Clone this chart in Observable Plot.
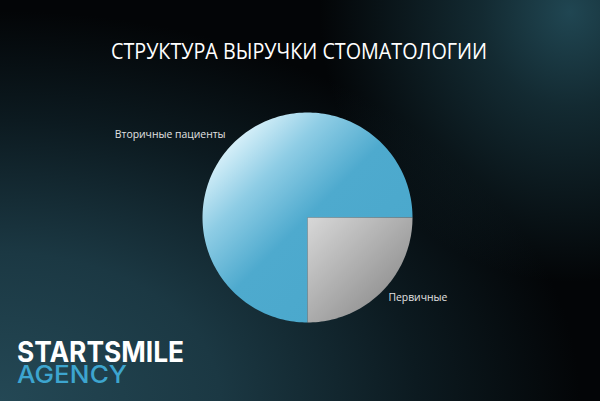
<!DOCTYPE html>
<html><head><meta charset="utf-8">
<script src="https://cdn.jsdelivr.net/npm/d3@7"></script>
<script src="https://cdn.jsdelivr.net/npm/@observablehq/plot@0.6"></script>
<style>
html,body{margin:0;padding:0;background:#030507;}
#wrap{position:relative;width:600px;height:401px;overflow:hidden;
background:
 radial-gradient(ellipse 250px 270px at 95% 3%, rgba(32,70,82,1) 0%, rgba(26,58,68,0.7) 35%, rgba(10,20,25,0) 100%),
 radial-gradient(ellipse 580px 390px at 0% 100%, #244855 0%, #1b3843 38%, #0c1a20 72%, #030507 100%),
 #030507;}
#chart{position:absolute;left:0;top:0;}
#overlay{position:absolute;left:0;top:0;pointer-events:none;}
</style></head>
<body>
<div id="wrap">
  <div id="chart"></div>
  <svg id="overlay" width="600" height="401">
    <text x="299" y="59" text-anchor="middle" font-family="Open Sans" font-size="21" fill="#ffffff" textLength="376" lengthAdjust="spacingAndGlyphs">СТРУКТУРА ВЫРУЧКИ СТОМАТОЛОГИИ</text>
    <text x="17" y="361.5" font-family="Inter" font-weight="700" font-size="28" fill="#ffffff" textLength="167" lengthAdjust="spacingAndGlyphs">STARTSMILE</text>
    <text x="17" y="383" font-family="Inter" font-weight="500" font-size="24" fill="#3da5cf" textLength="110" lengthAdjust="spacingAndGlyphs">AGENCY</text>
  </svg>
</div>
<script>
// ---- data ----
const categories = ["Первичные", "Вторичные пациенты"];
const shares = [25, 75];

// ---- build slices ----
const data = categories.map((c, i) => ({category: c, share: shares[i]}));
const arcs = d3.pie().sort(null).value(d => d.share)
  .startAngle(Math.PI / 2).endAngle(Math.PI * 2.5)(data);

const points = [];
for (const a of arcs) {
  const key = a.data.category;
  points.push({key, x: 0, y: 0});
  const n = Math.max(8, Math.ceil((a.endAngle - a.startAngle) / (Math.PI * 2) * 240));
  for (let k = 0; k <= n; k++) {
    const t = a.startAngle + (a.endAngle - a.startAngle) * k / n;
    points.push({key, x: Math.sin(t), y: Math.cos(t)});
  }
  points.push({key, x: 0, y: 0});
}
const labelR = 1.13;
const labels = arcs.map(a => {
  const m = (a.startAngle + a.endAngle) / 2;
  return {text: a.data.category, x: labelR * Math.sin(m), y: labelR * Math.cos(m), anchor: Math.sin(m) < 0 ? "end" : "start"};
});

const R = 105, cx = 307, cy = 217, W = 600, H = 401;
const plot = Plot.plot({
  width: W, height: H,
  margin: 0,
  style: {background: "transparent", overflow: "visible"},
  x: {domain: [-cx / R, (W - cx) / R], axis: null},
  y: {domain: [-(H - cy) / R, cy / R], axis: null},
  marks: [
    Plot.line(points.filter(p => p.key === categories[1]), {x: "x", y: "y", fill: "url(#gradBlue)", stroke: "none", curve: "linear"}),
    Plot.line(points.filter(p => p.key === categories[0]), {x: "x", y: "y", fill: "url(#gradGray)", stroke: "none", curve: "linear"}),
    Plot.text(labels.filter(d => d.anchor === "end"), {x: "x", y: "y", text: "text", textAnchor: "end", fill: "#e2e2e2", fontSize: 10.4, fontFamily: "Open Sans", dx: 2, dy: 1}),
    Plot.text(labels.filter(d => d.anchor === "start"), {x: "x", y: "y", text: "text", textAnchor: "start", fill: "#e2e2e2", fontSize: 10.4, fontFamily: "Open Sans", dx: -3, dy: -4})
  ]
});
const defs = d3.select(plot).insert("defs", ":first-child");
const gb = defs.append("linearGradient").attr("id", "gradBlue").attr("x1", 0).attr("y1", 0).attr("x2", 1).attr("y2", 1);
[[0, "#f2fbff"], [0.15, "#d3eef8"], [0.3, "#8fcde5"], [0.5, "#4eaace"], [1, "#48a7cb"]]
  .forEach(([o, c]) => gb.append("stop").attr("offset", o).attr("stop-color", c));
const gg = defs.append("linearGradient").attr("id", "gradGray").attr("x1", 0).attr("y1", 0).attr("x2", 1).attr("y2", 1);
[[0, "#d8d8d8"], [1, "#7e7e7e"]]
  .forEach(([o, c]) => gg.append("stop").attr("offset", o).attr("stop-color", c));
document.getElementById("chart").appendChild(plot);
</script>
</body></html>
